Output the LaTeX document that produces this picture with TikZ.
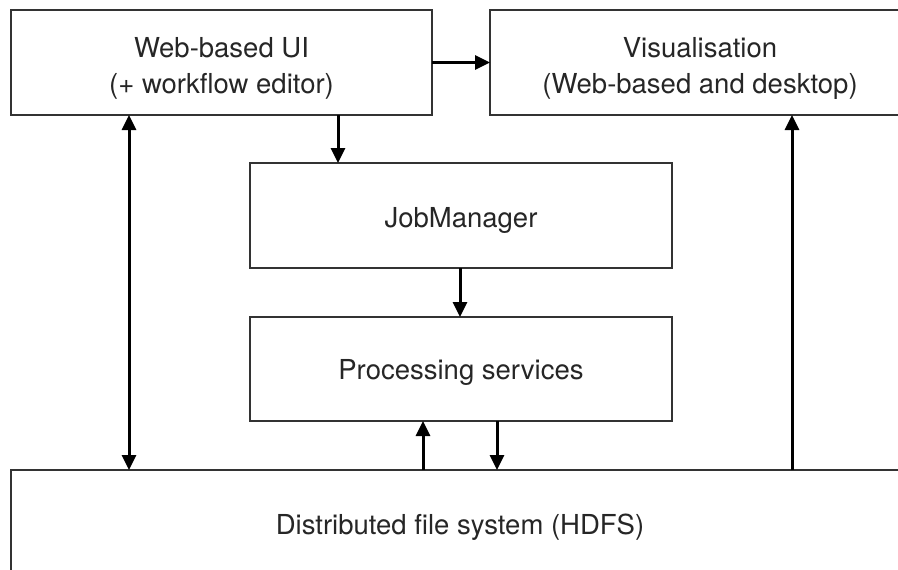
\documentclass[tikz,border=0pt]{standalone}
\usepackage{fontspec}
\setmainfont{TeX Gyre Heros}
\usetikzlibrary{arrows.meta}
\definecolor{txt}{HTML}{262626}
\definecolor{edge}{HTML}{333333}
\tikzset{
  box/.style={draw=edge, line width=1.6pt, fill=white, rectangle, inner sep=0pt, outer sep=0pt,
    align=center, text=txt, font=\fontsize{27.5pt}{36.5pt}\selectfont},
  oneline/.style={text height=20pt, text depth=0pt},
  twoline/.style={text height=62.5pt, text depth=0pt},
  arr/.style={line width=3pt, -{Triangle[length=15pt,width=14pt]}},
  darr/.style={line width=3pt, {Triangle[length=15pt,width=14pt]}-{Triangle[length=15pt,width=14pt]}}
}
\begin{document}
\begin{tikzpicture}[x=1pt,y=-1pt]
\useasboundingbox (0,0) rectangle (898,570);
\clip (0,0) rectangle (898,570);
\node[box, twoline, minimum width=421pt, minimum height=105pt] (ui) at (221.5,62.5) {Web-based UI\\(+ workflow editor)};
\node[box, twoline, minimum width=420pt, minimum height=105pt] (vis) at (700,62.5) {Visualisation\\(Web-based and desktop)};
\node[box, oneline, text height=23pt, minimum width=422pt, minimum height=105pt] (jm) at (461,215.5) {JobManager};
\node[box, oneline, minimum width=422pt, minimum height=104pt] (ps) at (461,369) {Processing services};
\node[box, oneline, text height=18pt, minimum width=898pt, minimum height=110pt] (hdfs) at (460,525) {Distributed file system (HDFS)};
\coordinate (xl) at (129,0);
\coordinate (xu) at (338,0);
\coordinate (xm) at (460,0);
\coordinate (xa) at (423,0);
\coordinate (xb) at (497,0);
\coordinate (xr) at (792,0);
\draw[arr] (ui.east) -- (vis.west);
\draw[arr] (ui.south -| xu) -- (jm.north -| xu);
\draw[arr] (jm.south -| xm) -- (ps.north -| xm);
\draw[arr] (hdfs.north -| xa) -- (ps.south -| xa);
\draw[arr] (ps.south -| xb) -- (hdfs.north -| xb);
\draw[darr] (ui.south -| xl) -- (hdfs.north -| xl);
\draw[arr] (hdfs.north -| xr) -- (vis.south -| xr);
\end{tikzpicture}
\end{document}
